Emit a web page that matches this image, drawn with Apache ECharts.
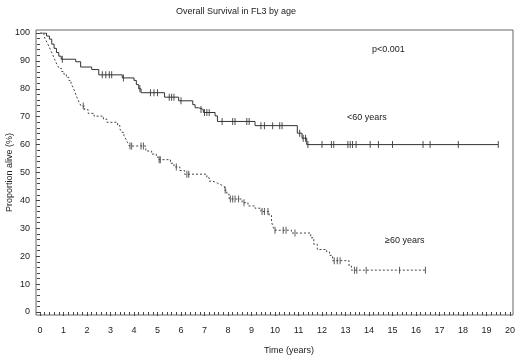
<!DOCTYPE html>
<html>
<head>
<meta charset="utf-8">
<script src="https://cdn.jsdelivr.net/npm/echarts@6/dist/echarts.min.js"></script>
<style>
  html, body { margin: 0; padding: 0; background: #fff; }
  #main { width: 520px; height: 364px; }
</style>
</head>
<body>
<div id="main"></div>
<script>
// KM steps [time (years), survival (%)] - value holds until the next point
const under60Steps = [
  [0, 100], [0.28, 98.9], [0.4, 97.8], [0.5, 96.0], [0.6, 94.5], [0.7, 93.0],
  [0.8, 91.7], [0.9, 90.6], [1.52, 89.7], [1.73, 87.8], [2.2, 86.9], [2.5, 85.0],
  [3.5, 83.9], [4.0, 83.0], [4.1, 81.5], [4.2, 80.0], [4.3, 78.6], [5.3, 77.0],
  [5.9, 75.7], [6.5, 74.3], [6.6, 73.2], [6.75, 72.6], [6.95, 71.5], [7.45, 70.3],
  [7.55, 68.3], [9.15, 66.8], [10.95, 64.1], [11.15, 62.3], [11.35, 60.0], [19.5, 60.0]
];
const over60Steps = [
  [0, 100], [0.17, 98.8], [0.24, 97.6], [0.31, 96.4], [0.38, 95.2], [0.45, 93.9],
  [0.52, 92.6], [0.6, 91.1], [0.67, 89.6], [0.74, 88.4], [0.82, 87.3], [0.92, 86.2],
  [1.02, 85.2], [1.12, 84.1], [1.23, 83.0], [1.32, 81.9], [1.4, 80.6], [1.47, 79.2],
  [1.53, 77.8], [1.6, 76.4], [1.67, 75.1], [1.75, 73.8], [1.9, 72.5], [2.05, 71.2],
  [2.3, 70.2], [2.7, 69.1], [2.85, 68.0], [3.3, 66.8], [3.4, 65.6], [3.48, 64.4],
  [3.57, 63.2], [3.65, 62.0], [3.72, 60.8], [3.8, 59.5], [4.5, 57.7], [4.75, 56.6],
  [4.95, 55.5], [5.05, 54.6], [5.55, 53.3], [5.7, 52.0], [5.95, 50.7], [6.15, 49.4],
  [7.1, 48.1], [7.2, 46.9], [7.35, 46.2], [7.55, 45.6], [7.7, 44.9], [7.85, 43.7],
  [7.95, 42.2], [8.05, 40.5], [8.6, 39.2], [8.85, 38.0], [9.15, 37.2], [9.4, 36.0],
  [9.75, 34.6], [9.85, 32.4], [9.92, 30.4], [9.98, 29.3], [10.7, 28.3], [11.52, 26.6],
  [11.65, 24.3], [11.8, 22.4], [12.2, 21.5], [12.32, 20.3], [12.45, 18.4], [13.15, 16.5],
  [13.25, 15.0], [16.4, 15.0]
];
// censoring times (years)
const under60Censored = [0.95, 2.65, 2.8, 2.95, 3.05, 3.55, 4.25, 4.7, 4.85, 5.0, 5.5, 5.6, 5.7,
  6.0, 6.85, 7.0, 7.1, 7.2, 7.75, 8.2, 8.3, 8.8, 8.9, 9.4, 9.55, 9.9, 10.2, 10.3, 11.05, 11.2,
  11.3, 11.4, 12.0, 12.4, 12.5, 13.1, 13.2, 13.3, 13.45, 14.05, 14.4, 15.0, 16.3, 16.6, 17.8, 19.5];
const over60Censored = [1.84, 3.83, 3.9, 4.3, 4.4, 5.07, 5.12, 5.8, 6.25, 6.33, 7.88, 8.1, 8.2,
  8.3, 8.45, 8.68, 9.45, 9.55, 9.7, 10.0, 10.35, 10.47, 10.85, 12.52, 12.65, 12.77, 13.38,
  13.48, 13.88, 15.3, 16.4];

const FONT = 'Liberation Sans, Arial, sans-serif';
const INK = '#222';

// survival value of a step curve at time t
const survAt = (steps, t) => {
  let v = steps[0][1];
  steps.forEach(([x, y]) => { if (x <= t) v = y; });
  return v;
};
const censorPoints = (steps, times) => times.map((t) => [t, survAt(steps, t)]);

const chart = echarts.init(document.getElementById('main'), null, { renderer: 'canvas' });

const option = {
  animation: false,
  backgroundColor: '#fff',
  textStyle: { fontFamily: FONT },
  grid: [
    { left: 40, right: 10, top: 33, bottom: 52, outerBoundsMode: 'none', containLabel: false },
    // frame around the plot
    { left: 36, right: 7, top: 30, bottom: 49, outerBoundsMode: 'none', containLabel: false,
      show: true, borderColor: '#666', borderWidth: 1 }
  ],
  xAxis: [
    {
      type: 'value', gridIndex: 0, min: 0, max: 20, interval: 1, offset: 3,
      axisLine: { show: false },
      axisTick: { show: true, length: 4, lineStyle: { color: '#444' } },
      minorTick: { show: true, splitNumber: 5, length: 3, lineStyle: { color: '#444' } },
      splitLine: { show: false },
      axisLabel: { color: INK, fontSize: 9, fontFamily: FONT, margin: 11 }
    },
    { type: 'value', gridIndex: 1, show: false, min: 0, max: 1 }
  ],
  yAxis: [
    {
      type: 'value', gridIndex: 0, min: 0, max: 100, interval: 10, offset: 4,
      name: 'Proportion alive (%)', nameLocation: 'middle', nameGap: 22, nameMoveOverlap: false,
      nameTextStyle: { color: INK, fontSize: 9, fontFamily: FONT },
      axisLine: { show: false },
      axisTick: { show: true, length: 4, lineStyle: { color: '#444' } },
      minorTick: { show: true, splitNumber: 5, length: 3, lineStyle: { color: '#444' } },
      splitLine: { show: false },
      axisLabel: { color: INK, fontSize: 9, fontFamily: FONT, margin: 6 }
    },
    { type: 'value', gridIndex: 1, show: false, min: 0, max: 1 }
  ],
  graphic: [
    { type: 'text', x: 236, y: 12, style: { text: 'Overall Survival in FL3 by age', fill: INK, font: '9px ' + FONT, align: 'center', verticalAlign: 'middle' } },
    { type: 'text', x: 372, y: 50, style: { text: 'p<0.001', fill: INK, font: '9px ' + FONT, verticalAlign: 'middle' } },
    { type: 'text', x: 347, y: 118, style: { text: '<60 years', fill: INK, font: '9px ' + FONT, verticalAlign: 'middle' } },
    { type: 'text', x: 385, y: 241, style: { text: '\u226560 years', fill: INK, font: '9px ' + FONT, verticalAlign: 'middle' } },
    { type: 'text', x: 289, y: 351, style: { text: 'Time (years)', fill: INK, font: '9px ' + FONT, align: 'center', verticalAlign: 'middle' } }
  ],
  series: [
    {
      name: '<60 years', type: 'line', step: 'end', symbol: 'none',
      data: under60Steps,
      lineStyle: { color: '#333', width: 1 }
    },
    {
      name: '>=60 years', type: 'line', step: 'end', symbol: 'none',
      data: over60Steps,
      lineStyle: { color: '#444', width: 1, type: [2, 2] }
    },
    {
      type: 'scatter', symbol: 'rect', symbolSize: [1, 7],
      itemStyle: { color: '#222' },
      data: censorPoints(under60Steps, under60Censored)
    },
    {
      type: 'scatter', symbol: 'rect', symbolSize: [1, 7],
      itemStyle: { color: '#333' },
      data: censorPoints(over60Steps, over60Censored)
    }
  ]
};

chart.setOption(option);
</script>
</body>
</html>
